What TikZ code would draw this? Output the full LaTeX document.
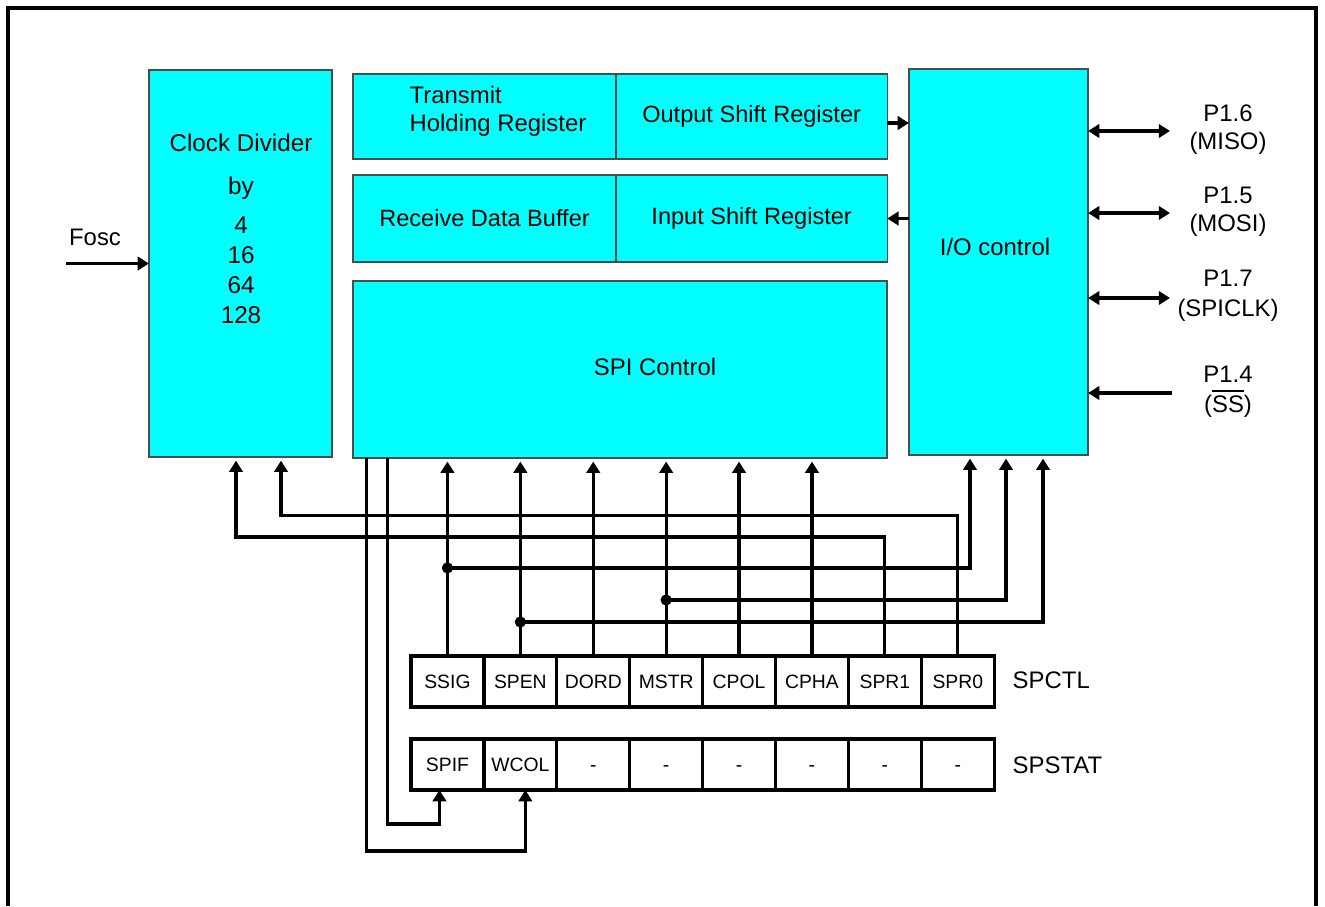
\documentclass[tikz,border=0pt]{standalone}
\usepackage{fontspec}
\setmainfont{Liberation Sans}
\usetikzlibrary{arrows.meta, positioning, calc}
\definecolor{boxcyan}{RGB}{0,255,255}

\tikzset{
  blk/.style={draw=black!70, fill=boxcyan, line width=0.4pt, outer sep=0pt, inner sep=0pt,
              font=\fontsize{6.7}{8}\selectfont},
  lbl/.style={font=\fontsize{6.8}{8}\selectfont, inner sep=0pt, align=center},
  bitcell/.style={draw, line width=0.9pt, outer sep=0pt, inner sep=0pt, text height=4pt, text depth=0.3pt,
                  minimum width=0.729cm, minimum height=0.51cm, font=\fontsize{5.5}{6}\selectfont},
  wire/.style={line width=0.9pt},
  arr/.style={wire, -{Triangle[length=3.2pt, width=3.8pt]}},
  darr/.style={wire, {Triangle[length=3.2pt, width=3.8pt]}-{Triangle[length=3.2pt, width=3.8pt]}},
  jdot/.style={circle, fill, inner sep=0pt, minimum size=3.2pt}
}

\begin{document}
\begin{tikzpicture}[x=0.01cm, y=-0.01cm]
    \useasboundingbox (0,0) rectangle (1325,906);
    % outer frame
    \draw[line width=0.9pt] (8,906) -- (8,8) -- (1316,8) -- (1316,906);

    % main blocks
    \node[blk, minimum width=1.83cm, minimum height=3.87cm] (clkdiv) at (240.5,263.5) {};
    \node[lbl, font=\fontsize{6.9}{8.5}\selectfont] (clkdivtxt) at (241,229)
        {Clock Divider\\[3.8pt] by\\[2.6pt] 4\\16\\64\\128};
    \node[blk, minimum width=2.63cm, minimum height=0.85cm] (thr) at (484.5,116.5) {};
    \node[lbl, align=left] (thrtxt) at (498,111) {Transmit\\Holding Register};
    \node[blk, minimum width=2.71cm, minimum height=0.85cm, right=0pt of thr] (osr) {Output Shift Register};
    \node[blk, minimum width=2.63cm, minimum height=0.87cm] (rdb) at (484.5,218.5) {Receive Data Buffer};
    \node[blk, minimum width=2.71cm, minimum height=0.87cm, right=0pt of rdb] (isr) {Input Shift Register};
    \node[blk, minimum width=5.34cm, minimum height=1.77cm] (spi) at (620,369.5) {};
    \node[lbl] (spitxt) at (655,367) {SPI Control};
    \node[blk, minimum width=1.79cm, minimum height=3.86cm] (ioc) at (998.5,262) {};
    \node[lbl] (ioctxt) at (995,247) {I/O control};

    % clock input
    \node[lbl] (fosc) at (95,237) {Fosc};
    \coordinate (fin) at (66,263.5);
    \draw[arr] (fin) -- (clkdiv.west);

    % shift registers <-> I/O
    \coordinate (txout) at ([yshift=-0.065cm]osr.east);
    \draw[arr] (txout) -- (txout -| ioc.west);
    \draw[arr] (ioc.west |- isr.east) -- (isr.east);

    % port pins
    \coordinate (miso) at (1170,131);
    \coordinate (mosi) at (1170,213);
    \coordinate (sck) at (1170,298);
    \coordinate (ssn) at (1172,393);
    \draw[darr] (ioc.east |- miso) -- (miso);
    \draw[darr] (ioc.east |- mosi) -- (mosi);
    \draw[darr] (ioc.east |- sck) -- (sck);
    \draw[arr] (ssn) -- (ioc.east |- ssn);
    \node[lbl] (misolbl) at (1228,130) {P1.6\\(MISO)};
    \node[lbl] (mosilbl) at (1228,211.5) {P1.5\\(MOSI)};
    \node[lbl, font=\fontsize{6.8}{8.6}\selectfont] (scklbl) at (1228,295.5) {P1.7\\(SPICLK)};
    \node[lbl, font=\fontsize{6.8}{8.4}\selectfont] (sslbl) at (1228,392) {P1.4\\($\overline{\hbox{SS}}$)};

    % SFR bits
    \foreach \n/\t [count=\i] in {ssig/SSIG, spen/SPEN, dord/DORD, mstr/MSTR, cpol/CPOL, cpha/CPHA, spr1/SPR1, spr0/SPR0}
      \node[bitcell] (\n) at ({411+72.9*\i-36.45},681.5) {\t};
    \foreach \n/\t [count=\i] in {spif/SPIF, wcol/WCOL, st5/-, st4/-, st3/-, st2/-, st1/-, st0/-}
      \node[bitcell] (\n) at ({411+72.9*\i-36.45},764.5) {\t};
    \node[lbl, anchor=west] (spctl) at (1012,680) {SPCTL};
    \node[lbl, anchor=west] (spstat) at (1012,765) {SPSTAT};

    % control bits -> SPI control
    \foreach \n in {ssig, spen, dord, mstr, cpol, cpha}
      \draw[arr, shorten >=1pt] (\n.north) -- (\n.north |- spi.south);

    % control bits -> I/O control
    \node[jdot] (jssig) at ([yshift=0.88cm]ssig.north) {};
    \node[jdot] (jmstr) at ([yshift=0.56cm]mstr.north) {};
    \node[jdot] (jspen) at ([yshift=0.34cm]spen.north) {};
    \draw[arr, shorten >=1pt] (jssig.center) -| ([xshift=-0.285cm]ioc.south);
    \draw[arr, shorten >=1pt] (jmstr.center) -| ([xshift=0.075cm]ioc.south);
    \draw[arr, shorten >=1pt] (jspen.center) -| ([xshift=0.445cm]ioc.south);

    % rate bits -> clock divider
    \draw[arr, shorten >=1pt] (spr1.north) -- ([yshift=1.19cm]spr1.north) -| ([xshift=-0.045cm]clkdiv.south);
    \draw[arr, shorten >=1pt] (spr0.north) -- ([yshift=1.40cm]spr0.north) -| ([xshift=0.405cm]clkdiv.south);

    % status flags
    \draw[arr] ([xshift=-2.32cm]spi.south) -- ++(0,366) -| ([xshift=-0.08cm]spif.south);
    \draw[arr] ([xshift=-2.53cm]spi.south) -- ++(0,393) -| ([xshift=0.05cm]wcol.south);
\end{tikzpicture}
\end{document}
